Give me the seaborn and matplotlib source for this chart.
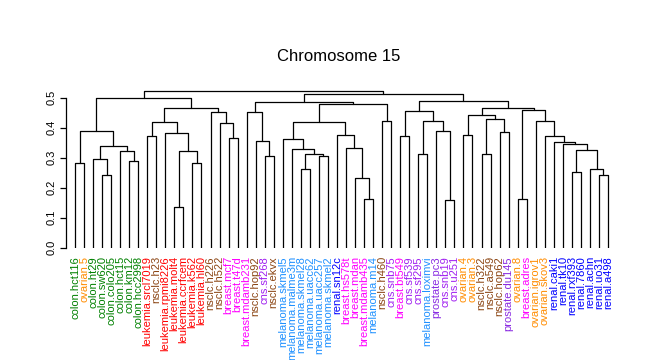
import matplotlib
matplotlib.use('Agg')
import matplotlib.pyplot as plt
import seaborn as sns
import pandas as pd

# ---------------- data ----------------
title = "Chromosome 15"

leaf_labels = [
    "colon.hct116", "ovarian.5", "colon.ht29", "colon.sw620", "colon.colo205",
    "colon.hct15", "colon.km12", "colon.hcc2998", "leukemia.srcl7019", "nsclc.h23",
    "leukemia.rpmi8226", "leukemia.molt4", "leukemia.ccrfcem", "leukemia.k562", "leukemia.hl60",
    "nsclc.h226", "nsclc.h522", "breast.mcf7", "breast.t47d", "breast.mdamb231",
    "nsclc.hop92", "cns.sf268", "nsclc.ekvx", "melanoma.skmel5", "melanoma.malme3m",
    "melanoma.skmel28", "melanoma.uacc62", "melanoma.uacc257", "melanoma.skmel2", "renal.sn12c",
    "breast.hs578t", "breast.mdan", "breast.mdamb435", "melanoma.m14", "nsclc.h460",
    "cns.snb75", "breast.bt549", "cns.sf539", "cns.sf295", "melanoma.loximvi",
    "prostate.pc3", "cns.snb19", "cns.u251", "ovarian.4", "ovarian.3",
    "nsclc.h322", "nsclc.a549", "nsclc.hop62", "prostate.du145", "ovarian.8",
    "breast.adres", "ovarian.igrov1", "ovarian.skov3", "renal.caki1", "renal.tk10",
    "renal.rxf393", "renal.7860", "renal.achn", "renal.uo31", "renal.a498",
]

# R-style merge table: negative = leaf (position in leaf order), positive = earlier merge
merge_left = [-4, -3, -7, -6, 2, -1, 6, -9, -12, -14,
              9, -11, 8, -18, -17, -16, 13, 7, -22, -21,
              -20, -26, -28, 22, -25, -24, -33, -32, -31, -30,
              26, -35, 31, 21, -37, -39, -42, -41, 36, 35,
              -44, -46, -48, 42, 41, -50, -59, -58, -56, 49,
              -55, -54, -53, -52, 46, 45, 40, 34, 18]
merge_right = [-5, 1, -8, 3, 4, -2, 5, -10, -13, -15,
               10, 11, 12, -19, 14, 15, 16, 17, -23, 19,
               20, -27, -29, 23, 24, 25, -34, 27, 28, 29,
               30, -36, 32, 33, -38, -40, -43, 37, 38, 39,
               -45, -47, -49, 43, 44, -51, -60, 47, -57, 48,
               50, 51, 52, 53, 54, 55, 56, 57, 58]
merge_height = [0.244, 0.297, 0.288, 0.324, 0.340, 0.284, 0.390, 0.374, 0.136, 0.284,
                0.322, 0.384, 0.420, 0.367, 0.417, 0.453, 0.467, 0.500, 0.307, 0.357,
                0.453, 0.264, 0.307, 0.314, 0.330, 0.364, 0.164, 0.231, 0.334, 0.377,
                0.420, 0.424, 0.480, 0.487, 0.374, 0.311, 0.158, 0.390, 0.424, 0.457,
                0.377, 0.311, 0.387, 0.430, 0.443, 0.164, 0.241, 0.264, 0.251, 0.327,
                0.347, 0.354, 0.374, 0.424, 0.460, 0.467, 0.490, 0.513, 0.523]

y_ticks = [0.0, 0.1, 0.2, 0.3, 0.4, 0.5]

type_colors = {
    "colon": "#008000",
    "ovarian": "#FF8C00",
    "leukemia": "#FF0000",
    "nsclc": "#8B4513",
    "breast": "#FF00FF",
    "cns": "#A020F0",
    "melanoma": "#1E90FF",
    "renal": "#0000FF",
    "prostate": "#8A2BE2",
}

# ---------------- build dendrogram segments ----------------
node_x, node_h = {}, {}


def child_pos(ref):
    if ref < 0:
        return float(-ref), 0.0
    return node_x[ref], node_h[ref]


rows = []
for i, (a, b, h) in enumerate(zip(merge_left, merge_right, merge_height), start=1):
    xa, ha = child_pos(a)
    xb, hb = child_pos(b)
    for j, (x, y) in enumerate([(xa, ha), (xa, h), (xb, h), (xb, hb)]):
        rows.append({"seg": i, "order": j, "x": x, "y": y})
    node_x[i] = (xa + xb) / 2.0
    node_h[i] = h

df = pd.DataFrame(rows)

# ---------------- plot ----------------
sns.set_theme(style="white")
plt.rcParams["font.family"] = ["Liberation Sans", "DejaVu Sans"]

W, H = 647, 360
fig = plt.figure(figsize=(W / 100, H / 100), dpi=100)
ax = fig.add_axes([66 / W, (H - 247.7) / H, 551 / W, 159 / H])

sns.lineplot(data=df, x="x", y="y", units="seg", estimator=None, sort=False,
             color="black", linewidth=0.9, ax=ax, legend=False)

ax.set_xlim(0, 61)
ax.set_ylim(0, 0.53)

for s in ["top", "right", "bottom"]:
    ax.spines[s].set_visible(False)
ax.spines["left"].set_bounds(0, 0.5)
ax.spines["left"].set_color("black")
ax.spines["left"].set_linewidth(0.9)

ax.set_yticks(y_ticks)
ax.set_yticklabels([f"{v:.1f}" for v in y_ticks], rotation=90, va="center")
ax.tick_params(axis="y", left=True, length=4, width=0.9, pad=3, labelsize=8,
               colors="black", direction="out")

positions = list(range(1, len(leaf_labels) + 1))
ax.set_xticks(positions)
ax.set_xticklabels(leaf_labels, rotation=90, va="top", ha="center")
ax.tick_params(axis="x", bottom=False, length=0, pad=6, labelsize=8)
for lbl, name in zip(ax.get_xticklabels(), leaf_labels):
    lbl.set_color(type_colors[name.split(".")[0]])

ax.set_xlabel("")
ax.set_ylabel("")
ax.grid(False)

fig.text(339 / W, 1 - 56.5 / H, title, ha="center", va="center", fontsize=12, color="black")

fig.savefig("out.png", dpi=100)
